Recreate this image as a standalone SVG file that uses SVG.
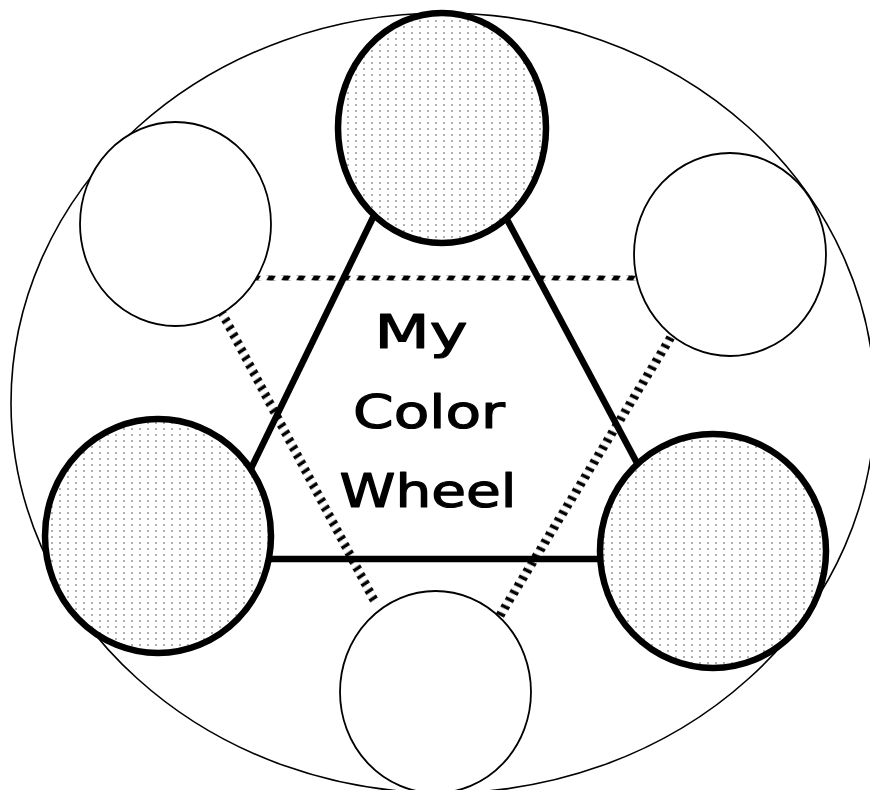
<svg xmlns="http://www.w3.org/2000/svg" width="870" height="790" viewBox="0 0 870 790">
  <defs>
    <pattern id="dots" patternUnits="userSpaceOnUse" width="8" height="6">
      <rect width="8" height="6" fill="#ffffff"/>
      <circle cx="4" cy="3" r="0.95" fill="#8f8f8f"/>
    </pattern>
    <pattern id="hatchH" patternUnits="userSpaceOnUse" x="0" y="-2.5" width="15" height="5">
      <polygon points="1,5 8,5 11,0 4,0" fill="#000"/>
    </pattern>
    <pattern id="hatchD" patternUnits="userSpaceOnUse" x="0" y="-4.5" width="8.5" height="9">
      <polygon points="0,0 3.5,0 4.5,9 1,9" fill="#000"/>
    </pattern>
  </defs>
  <style>
    .outer { fill: none; stroke: #000; stroke-width: 1.6; }
    .tri { stroke: #000; stroke-width: 6.5; stroke-linecap: butt; fill: none; }
    .primary { fill: url(#dots); stroke: #000; stroke-width: 6.5; }
    .secondary { fill: #fff; stroke: #000; stroke-width: 1.8; }
    .title { font-family: "DejaVu Sans", "Liberation Sans", sans-serif; font-weight: normal; font-size: 47px; fill: #000; stroke: #000; stroke-width: 1.2; stroke-linejoin: round; text-anchor: middle; }
  </style>
  <rect width="870" height="790" fill="#fff"/>
  <ellipse id="wheel-outline" class="outer" cx="443" cy="403" rx="432" ry="390"/>
  <g id="connectors">
    <line class="tri" x1="382" y1="199" x2="243" y2="485"/>
    <line class="tri" x1="503" y1="212" x2="645" y2="478"/>
    <line class="tri" x1="260" y1="559" x2="610" y2="559"/>
    <g transform="translate(250,278)">
      <rect x="0" y="-2.5" width="387" height="5" fill="url(#hatchH)"/>
    </g>
    <g transform="translate(221,311) rotate(62.1)">
      <rect x="0" y="-4.5" width="331" height="9" fill="url(#hatchD)"/>
    </g>
    <g transform="translate(671,337) rotate(121.55)">
      <rect x="0" y="-4.5" width="334" height="9" fill="url(#hatchD)"/>
    </g>
  </g>
  <g id="primary-top"><ellipse class="primary" cx="442" cy="128" rx="104" ry="115"/></g>
  <g id="primary-left"><ellipse class="primary" cx="158" cy="536" rx="113" ry="117"/></g>
  <g id="primary-right"><ellipse class="primary" cx="713" cy="551" rx="113" ry="117"/></g>
  <g id="secondary-upper-left"><ellipse class="secondary" cx="175.5" cy="224" rx="95.5" ry="102"/></g>
  <g id="secondary-upper-right"><ellipse class="secondary" cx="730" cy="254.5" rx="96" ry="101.5"/></g>
  <g id="secondary-bottom"><ellipse class="secondary" cx="435.5" cy="692" rx="95.5" ry="101"/></g>
  <g id="title">
    <text class="title" x="421" y="348" textLength="93" lengthAdjust="spacingAndGlyphs">My</text>
    <text class="title" x="429" y="428" textLength="152" lengthAdjust="spacingAndGlyphs">Color</text>
    <text class="title" x="428" y="507" textLength="177" lengthAdjust="spacingAndGlyphs">Wheel</text>
  </g>
</svg>
